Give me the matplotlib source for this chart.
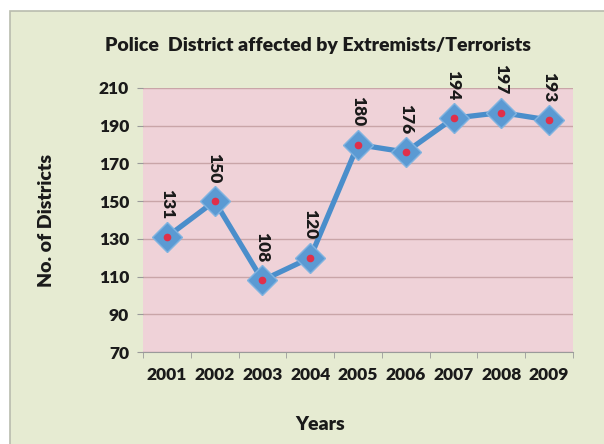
import numpy as np
import matplotlib.pyplot as plt

years = ["2001", "2002", "2003", "2004", "2005", "2006", "2007", "2008", "2009"]
districts = [131, 150, 108, 120, 180, 176, 194, 197, 193]

plt.rcParams['font.family'] = ['Lato', 'DejaVu Sans']
plt.rcParams['font.weight'] = 'heavy'

fig = plt.figure(figsize=(6.04, 4.44), dpi=100)
fig.patch.set_facecolor("white")
# outer chart panel
panel = plt.Rectangle((10 / 604, -0.01), 600 / 604, 437 / 444, transform=fig.transFigure,
                      facecolor="#e6ebd2", edgecolor="#b9bcae", linewidth=1.2, zorder=-10)
fig.patches.append(panel)

ax = fig.add_axes([143 / 604, 1 - 352 / 444, 430 / 604, 264 / 444])
ax.set_facecolor("#efd2d8")

x = np.arange(len(years))
ax.plot(x, districts, color="#4a8ecb", linewidth=3.8, zorder=3)
ax.plot(x, districts, linestyle="none", marker="D", markersize=15,
        markerfacecolor="#5b9ad3", markeredgecolor="#80b3e0", markeredgewidth=1, zorder=4)
ax.plot(x, districts, linestyle="none", marker="o", markersize=4.5,
        color="#e0304a", zorder=5)

for xi, v in zip(x, districts):
    ax.annotate(str(v), (xi, v), xytext=(0, 13), textcoords="offset points",
                rotation=270, ha="center", va="bottom", fontsize=12.5,
                fontweight="heavy", color="#1a1a1a", annotation_clip=False)

ax.set_ylim(70, 210)
ax.set_yticks(range(70, 211, 20))
ax.set_xlim(-0.5, len(years) - 0.5)
ax.set_xticks(x)
ax.set_xticklabels(years)
ax.set_xticks(np.arange(-0.5, len(years), 1), minor=True)
ax.tick_params(axis="x", which="major", length=0, pad=11, labelsize=12.5)
ax.tick_params(axis="x", which="minor", length=4, color="#9a9a9a")
ax.tick_params(axis="y", length=4, color="#9a9a9a", pad=6, labelsize=12.5)
for lab in ax.get_xticklabels() + ax.get_yticklabels():
    lab.set_fontweight("heavy")
    lab.set_color("#1a1a1a")

ax.grid(axis="y", color="#c9a5a8", linewidth=1)
ax.set_axisbelow(True)
for side in ["top", "right", "left"]:
    ax.spines[side].set_visible(False)
ax.spines["bottom"].set_color("#9a9a9a")

fig.text(318 / 604, 1 - 45 / 444, "Police  District affected by Extremists/Terrorists",
         ha="center", va="center", fontsize=14, fontweight="heavy", color="#1a1a1a")
fig.text(46 / 604, 1 - 220 / 444, "No. of Districts", rotation=90,
         ha="center", va="center", fontsize=14, fontweight="heavy", color="#1a1a1a")
fig.text(320 / 604, 1 - 424 / 444, "Years", ha="center", va="center",
         fontsize=14, fontweight="heavy", color="#1a1a1a")

fig.savefig("out.png", dpi=100)
